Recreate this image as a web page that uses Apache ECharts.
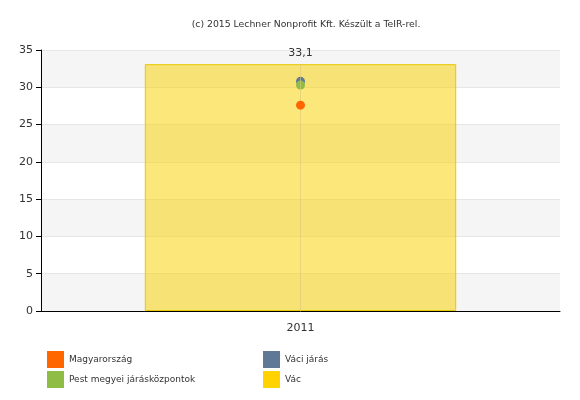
<!DOCTYPE html>
<html><head><meta charset="utf-8">
<script src="https://cdn.jsdelivr.net/npm/echarts@6/dist/echarts.min.js"></script>
<style>html,body{margin:0;padding:0;background:#fff}#c{width:580px;height:400px}</style>
</head><body><div id="c"></div>
<script>
var categories = ['2011'];
var vac = [33.1];
var vaciJaras = [30.8];
var pestJaraskozpontok = [30.3];
var magyarorszag = [27.6];
var yTicks = [0, 5, 10, 15, 20, 25, 30, 35];

var font = 'Verdana, "DejaVu Sans", sans-serif';
var colors = {
  'Magyarország': '#ff6600',
  'Váci járás': '#5f7896',
  'Pest megyei járásközpontok': '#8fbc45',
  'Vác': '#ffd200'
};
function leg(name, left, top) {
  return {
    left: left, top: top, itemWidth: 17, itemHeight: 17, itemGap: 3, padding: 0,
    icon: 'rect', textStyle: {fontSize: 9, color: '#333', fontFamily: font},
    data: [{name: name, itemStyle: {color: colors[name], borderWidth: 0, opacity: 1}}]
  };
}
var chart = echarts.init(document.getElementById('c'));
chart.setOption({
  animation: false,
  textStyle: {fontFamily: font},
  title: {
    text: '(c) 2015 Lechner Nonprofit Kft. Készült a TeIR-rel.',
    left: 301, top: 15, textAlign: 'center',
    textStyle: {fontSize: 9.3, fontWeight: 'normal', color: '#333', fontFamily: font}
  },
  grid: {left: 41, right: 20, top: 50, bottom: 89},
  legend: [
    leg('Magyarország', 47, 351),
    leg('Pest megyei járásközpontok', 47, 371),
    leg('Váci járás', 263, 351),
    leg('Vác', 263, 371)
  ],
  xAxis: {
    type: 'category', data: categories,
    axisLine: {lineStyle: {color: '#000', width: 1}},
    axisTick: {alignWithLabel: true, length: 5, lineStyle: {color: '#000'}},
    axisLabel: {fontSize: 11, color: '#333', margin: 12, fontFamily: font}
  },
  yAxis: {
    type: 'value', min: yTicks[0], max: yTicks[yTicks.length - 1], interval: 5,
    axisLine: {show: true, lineStyle: {color: '#000', width: 1}},
    axisTick: {show: true, length: 5, lineStyle: {color: '#000'}},
    axisLabel: {fontSize: 11, color: '#333', margin: 8, fontFamily: font},
    splitLine: {show: true, lineStyle: {color: '#e6e6e6'}},
    splitArea: {show: true, areaStyle: {color: ['#f5f5f5', '#ffffff']}}
  },
  series: [{
    name: 'Vác', type: 'bar', data: vac, barWidth: '60%', z: 1,
    itemStyle: {color: 'rgba(250,210,0,0.52)', borderColor: '#e8c800', borderWidth: 1},
    label: {show: true, position: 'top', distance: 6, fontSize: 11, color: '#333', fontFamily: font,
      formatter: function (p) { return String(p.value).replace('.', ','); }},
    markLine: {
      symbol: 'none', silent: true, label: {show: false},
      lineStyle: {color: 'rgba(220,200,120,0.6)', width: 1, type: 'solid'},
      data: [[{coord: [categories[0], 0]}, {coord: [categories[0], vac[0]]}]]
    }
  }, {
    name: 'Váci járás', type: 'scatter', data: vaciJaras, symbolSize: 9, z: 3,
    itemStyle: {color: colors['Váci járás'], opacity: 1}
  }, {
    name: 'Pest megyei járásközpontok', type: 'scatter', data: pestJaraskozpontok, symbolSize: 9, z: 4,
    itemStyle: {color: colors['Pest megyei járásközpontok'], opacity: 1}
  }, {
    name: 'Magyarország', type: 'scatter', data: magyarorszag, symbolSize: 9, z: 5,
    itemStyle: {color: colors['Magyarország'], opacity: 1}
  }]
});
</script></body></html>
